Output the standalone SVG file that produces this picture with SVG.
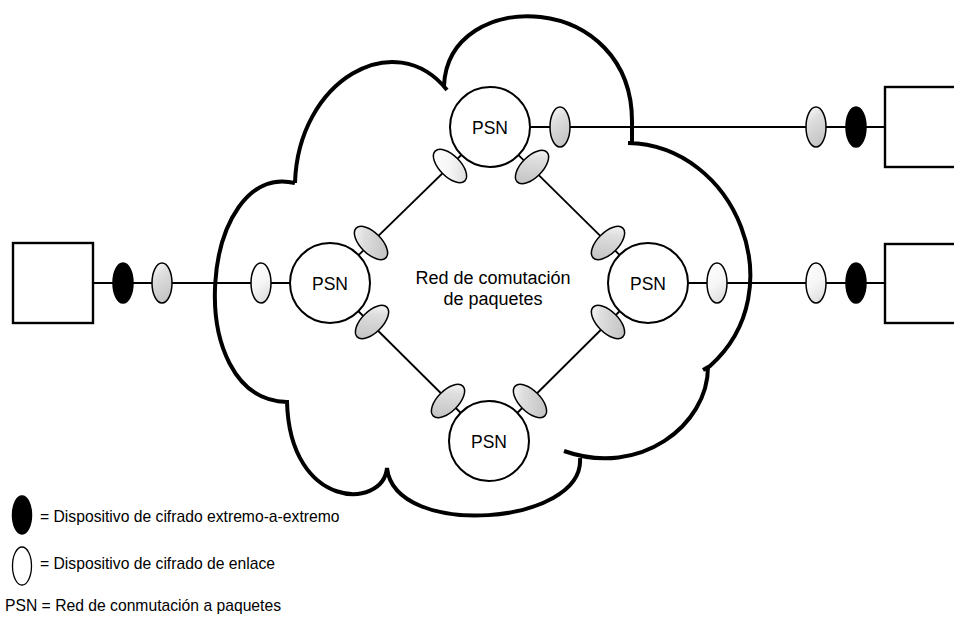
<svg xmlns="http://www.w3.org/2000/svg" width="954" height="619" viewBox="0 0 954 619">
<defs>
<linearGradient id="gA" x1="0" y1="0" x2="0.4" y2="1">
<stop offset="0" stop-color="#ffffff"/>
<stop offset="0.4" stop-color="#dedede"/>
<stop offset="1" stop-color="#c6c6c6"/>
</linearGradient>
<linearGradient id="gB" x1="0" y1="0" x2="0.4" y2="1">
<stop offset="0" stop-color="#ffffff"/>
<stop offset="0.6" stop-color="#f6f6f6"/>
<stop offset="1" stop-color="#e2e2e2"/>
</linearGradient>
</defs>
<style>
.cloud{fill:none;stroke:#000;stroke-width:4;stroke-linejoin:miter}
.ln{stroke:#000;stroke-width:1.8;fill:none}
.box{fill:#fff;stroke:#000;stroke-width:2.4}
.psn{fill:#fff;stroke:#000;stroke-width:2}
.lk{fill:url(#gA);stroke:#000;stroke-width:1.5}
.lw{fill:url(#gB);stroke:#000;stroke-width:1.5}
.ee{fill:#000;stroke:#000;stroke-width:1.5}
.lg{fill:#fff;stroke:#000;stroke-width:1.3}
text{font-family:"Liberation Sans",Arial,sans-serif;fill:#000}
.pl{font-size:17.5px;text-anchor:middle}
.ct{font-size:18px;text-anchor:middle}
.leg{font-size:15.7px}
</style>
<rect width="954" height="619" fill="#fff"/>
<g id="connectors">
<line class="ln" x1="93" y1="283" x2="330" y2="283"/>
<line class="ln" x1="648" y1="283" x2="885" y2="283"/>
<line class="ln" x1="490" y1="127" x2="885" y2="127"/>
<line class="ln" x1="490" y1="127" x2="330" y2="283"/>
<line class="ln" x1="490" y1="127" x2="648" y2="283"/>
<line class="ln" x1="330" y1="283" x2="489" y2="441"/>
<line class="ln" x1="648" y1="283" x2="489" y2="441"/>
</g>
<g id="cloud">
<path class="cloud" d="M295,183 C298,80 395,25 447,90 M444,86 C448,-15 635,-10 632,125 L632,143 L628,143 C735,145 795,290 710,366 L703,370 M708,367 C708,425 640,478 564,451 M580,458 C585,525 395,540 387,468 C383,510 290,510 287,402 C180,400 200,160 295,183"/>
</g>
<g id="box-left"><rect class="box" x="13" y="243" width="80" height="80"/></g>
<g id="box-right-top"><rect class="box" x="885" y="87" width="80" height="80"/></g>
<g id="box-right-bottom"><rect class="box" x="885" y="244" width="80" height="79"/></g>
<g id="psn-top"><circle class="psn" cx="490" cy="127" r="40"/><text class="pl" x="490" y="134">PSN</text></g>
<g id="psn-left"><circle class="psn" cx="330" cy="283" r="40"/><text class="pl" x="330" y="290">PSN</text></g>
<g id="psn-right"><circle class="psn" cx="648" cy="283" r="40"/><text class="pl" x="648" y="290">PSN</text></g>
<g id="psn-bottom"><circle class="psn" cx="489" cy="441" r="40"/><text class="pl" x="489" y="448">PSN</text></g>
<g id="network-label"><text class="ct" x="493" y="284">Red de comutación</text><text class="ct" x="493" y="305">de paquetes</text></g>
<g id="devices">
<ellipse class="ee" cx="123" cy="283" rx="10" ry="20"/>
<ellipse class="lk" cx="162" cy="283" rx="10" ry="20"/>
<ellipse class="lw" cx="261" cy="283" rx="10" ry="20"/>
<ellipse class="lw" cx="717" cy="283" rx="10" ry="20"/>
<ellipse class="lw" cx="816" cy="283" rx="10" ry="20"/>
<ellipse class="ee" cx="856" cy="283" rx="10" ry="20"/>
<ellipse class="lk" cx="560" cy="127" rx="10" ry="20"/>
<ellipse class="lk" cx="816" cy="127" rx="10" ry="20"/>
<ellipse class="ee" cx="856" cy="127" rx="10" ry="20"/>
<ellipse class="lw" cx="0" cy="0" rx="10.5" ry="21" transform="translate(450,166) rotate(-45)"/>
<ellipse class="lk" cx="0" cy="0" rx="10.5" ry="21" transform="translate(371,243) rotate(-45)"/>
<ellipse class="lk" cx="0" cy="0" rx="10.5" ry="21" transform="translate(532,167) rotate(45)"/>
<ellipse class="lk" cx="0" cy="0" rx="10.5" ry="21" transform="translate(608,243) rotate(45)"/>
<ellipse class="lk" cx="0" cy="0" rx="10.5" ry="21" transform="translate(372,322) rotate(45)"/>
<ellipse class="lk" cx="0" cy="0" rx="10.5" ry="21" transform="translate(448,401) rotate(45)"/>
<ellipse class="lk" cx="0" cy="0" rx="10.5" ry="21" transform="translate(608,322) rotate(-45)"/>
<ellipse class="lk" cx="0" cy="0" rx="10.5" ry="21" transform="translate(530,401) rotate(-45)"/>
</g>
<g id="legend">
<ellipse class="ee" cx="22" cy="515" rx="9.5" ry="19"/>
<text class="leg" x="40" y="522">= Dispositivo de cifrado extremo-a-extremo</text>
<ellipse class="lg" cx="22" cy="566" rx="9.5" ry="19"/>
<text class="leg" x="40" y="569">= Dispositivo de cifrado de enlace</text>
<text class="leg" x="5" y="611">PSN = Red de conmutación a paquetes</text>
</g>
</svg>
